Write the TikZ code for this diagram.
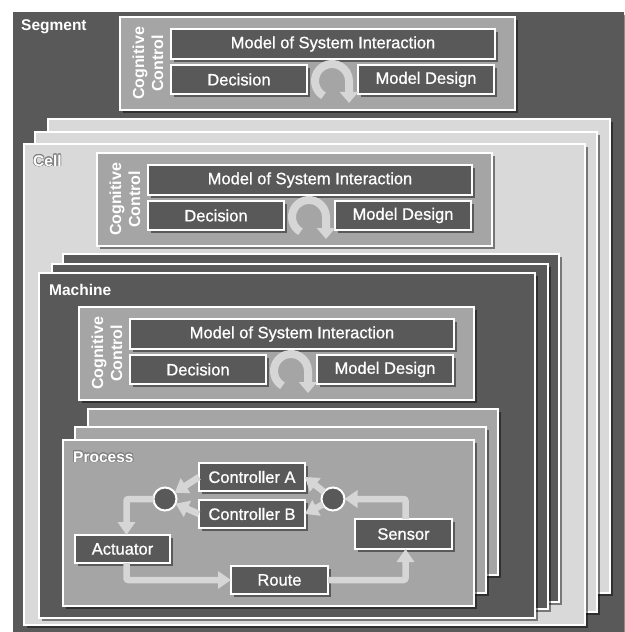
\documentclass[tikz,border=0pt]{standalone}
\usepackage{fontspec}
\setmainfont{Liberation Sans}
\newfontfamily\boxfont[FakeBold=0.9]{Liberation Sans}
\usepackage{contour}
\contourlength{0.7pt}
\usetikzlibrary{arrows.meta,shadows,calc}
\definecolor{dk}{HTML}{595959}
\definecolor{md}{HTML}{A5A5A5}
\definecolor{lt}{HTML}{D9D9D9}
\definecolor{arr}{HTML}{D6D6D6}
\tikzset{
  shad/.style={drop shadow={shadow xshift=2.5pt, shadow yshift=-2.5pt, opacity=0.45, fill=black}},
  card/.style={draw=white, line width=2.2pt, anchor=north west, inner sep=0pt, outer sep=0pt, shad},
  txtbox/.style={draw=white, line width=2pt, fill=dk, text=white, inner sep=0pt, outer sep=0pt,
    font=\boxfont\fontsize{16.5}{19}\selectfont, shad},
  lbl/.style={anchor=base west, inner sep=0pt, text=white, font=\bfseries\fontsize{15.5}{18}\selectfont},
  cclbl/.style={rotate=90, align=center, inner sep=0pt, text=white, font=\bfseries\fontsize{16}{19}\selectfont},
  flow/.style={draw=arr, line width=6.5pt, rounded corners=2pt, -{Triangle[width=17pt,length=13pt]}},
  loopar/.style={draw=arr, line width=8pt, -{Triangle[width=18pt,length=11pt]}},
  junc/.style={circle, draw=white, line width=2pt, fill=dk, minimum size=23pt, inner sep=0pt, outer sep=0pt},
  ccblock/.pic={
    \node[card, fill=md, minimum width=395pt, minimum height=93pt] (-frame) at (0,0) {};
    \node[txtbox, minimum width=324pt, minimum height=30pt] (-model) at (213,27) {Model of System Interaction};
    \node[txtbox, minimum width=136pt, minimum height=29pt] (-dec) at (119,62.5) {Decision};
    \node[txtbox, minimum width=136pt, minimum height=29pt] (-des) at (306,62.5) {Model Design};
    \coordinate (-c) at (212,64);
    \draw[loopar] (-c) ++(-8.5pt,-14.72pt) arc[start angle=240, end angle=0, radius=17pt] -- ++(0,22);
    \node[cclbl] (-lbl) at (28,46.5) {Cognitive\\Control};
  }
}
\begin{document}
\begin{tikzpicture}[x=1pt,y=-1pt]
\useasboundingbox (0,0) rectangle (624,632);
% Segment
\node[card, fill=dk, draw=none, minimum width=611pt, minimum height=620pt] (segment) at (13,12) {};
\node[lbl] (seglbl) at (21,30) {Segment};
\pic (segcc) at (120,17) {ccblock};
% Cells
\node[card, fill=lt, minimum width=562pt, minimum height=474pt] (cellB) at (48,119) {};
\node[card, fill=lt, minimum width=562pt, minimum height=480pt] (cellM) at (35,132) {};
\node[card, fill=lt, minimum width=561pt, minimum height=481pt] (cellF) at (24,144) {};
\node[lbl] (celllbl) at (33,166) {\contour{gray}{Cell}};
\pic (cellcc) at (97,153) {ccblock};
% Machines
\node[card, fill=dk, minimum width=496pt, minimum height=348pt] (machB) at (63,254) {};
\node[card, fill=dk, minimum width=496pt, minimum height=345pt] (machM) at (52,264) {};
\node[card, fill=dk, minimum width=496pt, minimum height=345pt] (machF) at (39,273) {};
\node[lbl] (machlbl) at (49,295) {Machine};
\pic (machcc) at (79,307) {ccblock};
% Processes
\node[card, fill=md, minimum width=410pt, minimum height=166pt] (procB) at (88,409) {};
\node[card, fill=md, minimum width=411pt, minimum height=166pt] (procM) at (75,427) {};
\node[card, fill=md, minimum width=411pt, minimum height=166pt] (procF) at (63,440) {};
\node[lbl] (proclbl) at (73,462) {\contour{gray}{Process}};
% Process internals
\node[txtbox, minimum width=106pt, minimum height=28pt] (ctrlA) at (252,477) {Controller A};
\node[txtbox, minimum width=106pt, minimum height=28pt] (ctrlB) at (252,514) {Controller B};
\node[junc] (lc) at (165,499) {};
\node[junc] (rc) at (333,499) {};
\node[txtbox, minimum width=95pt, minimum height=28pt] (act) at (122.5,549) {Actuator};
\node[txtbox, minimum width=97pt, minimum height=28pt] (route) at (279.5,580) {Route};
\node[txtbox, minimum width=97pt, minimum height=30pt] (sensor) at (403.5,534) {Sensor};
\draw[flow] (ctrlA.west) -- (lc);
\draw[flow] (ctrlB.west) -- (lc);
\draw[flow] (rc) -- (ctrlA.east);
\draw[flow] (rc) -- (ctrlB.east);
\draw[flow] (lc.west) -| ([xshift=4pt]act.north);
\draw[flow] ([xshift=4pt]act.south) |- (route.west);
\draw[flow] (route.east) -| ([xshift=2pt]sensor.south);
\draw[flow] ([xshift=2pt]sensor.north) |- (rc.east);
\end{tikzpicture}
\end{document}
